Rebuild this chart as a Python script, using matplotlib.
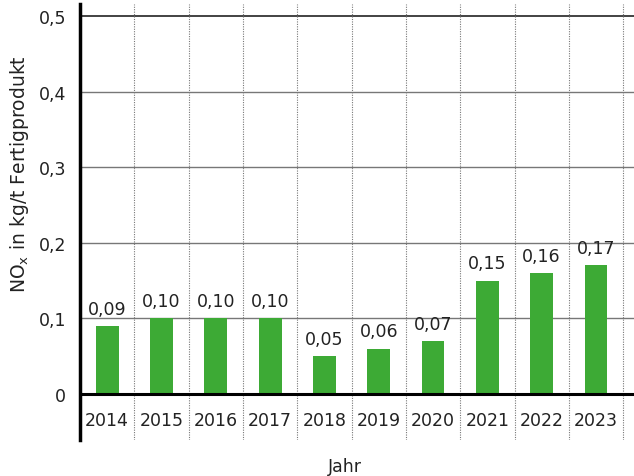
import matplotlib
matplotlib.use("Agg")
import matplotlib.pyplot as plt

years = ["2014", "2015", "2016", "2017", "2018", "2019", "2020", "2021", "2022", "2023"]
values = [0.09, 0.10, 0.10, 0.10, 0.05, 0.06, 0.07, 0.15, 0.16, 0.17]
value_labels = ["0,09", "0,10", "0,10", "0,10", "0,05", "0,06", "0,07", "0,15", "0,16", "0,17"]
yticks = [0, 0.1, 0.2, 0.3, 0.4, 0.5]
ytick_labels = ["0", "0,1", "0,2", "0,3", "0,4", "0,5"]

plt.rcParams['font.family'] = ['DejaVu Sans']
W, H = 634, 477
fig = plt.figure(figsize=(W / 100, H / 100), dpi=100)
# axes from x=80..634, y pixel 5..441
ax = fig.add_axes([80 / W, 1 - 441 / H, (634 - 80) / W, (441 - 5) / H])

green = "#3DAA35"
x = list(range(len(years)))
ax.bar(x, values, width=0.42, color=green, zorder=3)

ax.set_xlim(-0.5, 9.7)
ax.set_ylim(-0.061, 0.516)

# horizontal grid lines
for yv in yticks[1:-1]:
    ax.axhline(yv, color="#777777", lw=1.0, zorder=1)
ax.axhline(0.5, color="#222222", lw=1.2, zorder=1)
ax.axhline(0, color="black", lw=2.2, zorder=4)

# vertical dotted separators
for i in range(len(years)):
    ax.axvline(i + 0.5, color="#777777", lw=0.8, ls=(0, (1, 1.2)), zorder=1)

for i, (v, lab) in enumerate(zip(values, value_labels)):
    ax.text(i, v + 0.011, lab, ha="center", va="bottom", fontsize=12.5, color="#222222", zorder=5)
    ax.text(i, -0.034, years[i], ha="center", va="center", fontsize=12.5, color="#222222")

ax.set_yticks(yticks)
ax.set_yticklabels(ytick_labels, fontsize=12.5, color="#222222")
ax.tick_params(axis="y", length=0, pad=10)
ax.set_xticks([])

for s in ["top", "right", "bottom"]:
    ax.spines[s].set_visible(False)
ax.spines["left"].set_linewidth(2.5)
ax.spines["left"].set_color("black")

fig.text(20 / W, 1 - 174 / H, r"NO$_\mathregular{x}$ in kg/t Fertigprodukt", rotation=90,
         ha="center", va="center", fontsize=13.5, color="#222222")
fig.text(345 / W, 1 - 467 / H, "Jahr", ha="center", va="center", fontsize=12.5, color="#222222")

fig.savefig("out.png", dpi=100)
